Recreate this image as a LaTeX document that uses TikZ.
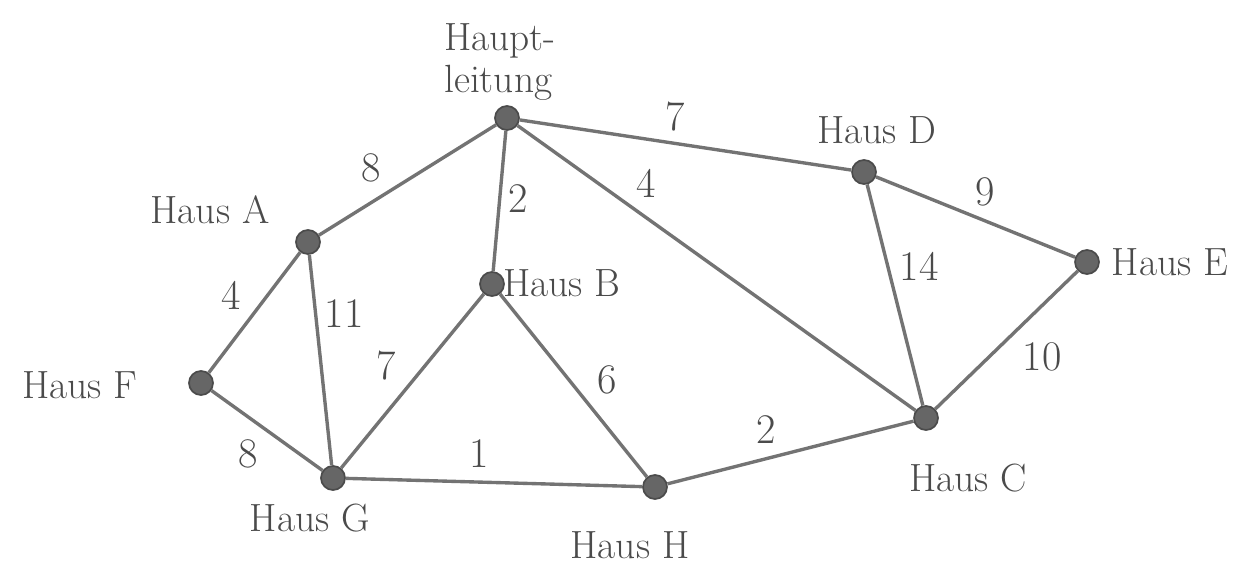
\documentclass[tikz,border=0pt]{standalone}
\usepackage{tikz}
\definecolor{pencil}{RGB}{75,75,75}
\definecolor{wire}{RGB}{115,115,115}
\tikzset{
  haus/.style={circle, draw=pencil, fill=pencil!85, line width=1.2pt, inner sep=0pt, minimum size=0.6cm},
  hausname/.style={text=pencil, font=\fontsize{28}{30}\selectfont},
  weight/.style={text=pencil, font=\fontsize{30}{32}\selectfont}
}
\begin{document}
\begin{tikzpicture}[x=0.025cm, y=-0.025cm, line width=2.4pt, draw=wire]
    \useasboundingbox (0,0) rectangle (1234,570);
    % Nodes
    \node (HL) [haus] at (507,118) {};
    \node (D) [haus] at (864,172) {};
    \node (E) [haus] at (1087,262) {};
    \node (A) [haus] at (308,242) {};
    \node (B) [haus] at (492,284) {};
    \node (F) [haus] at (201,383) {};
    \node (G) [haus] at (333,478) {};
    \node (H) [haus] at (655,487) {};
    \node (C) [haus] at (926,418) {};

    % Names
    \node (tHL) [hausname, align=left] at (500,62) {Haupt-\\leitung};
    \node (tD) [hausname] at (877,130) {Haus D};
    \node (tE) [hausname] at (1170,262) {Haus E};
    \node (tA) [hausname] at (210,210) {Haus A};
    \node (tB) [hausname] at (562,283) {Haus B};
    \node (tF) [hausname] at (80,385) {Haus F};
    \node (tG) [hausname] at (310,518) {Haus G};
    \node (tH) [hausname] at (630,545) {Haus H};
    \node (tC) [hausname] at (968,478) {Haus C};

    % Edges with weights
    \draw (HL) -- (A) node[weight, pos=0.6, above left=2pt] {8};
    \draw (HL) -- (D) node[weight, pos=0.47, above=4pt] {7};
    \draw (HL) -- (B) node[weight, pos=0.48, right=2pt] {2};
    \draw (HL) -- (C) node[weight, pos=0.28, above right=1pt] {4};
    \draw (D) -- (E) node[weight, pos=0.55, above=6pt] {9};
    \draw (D) -- (C) node[weight, pos=0.37, right=4pt] {14};
    \draw (E) -- (C) node[weight, pos=0.45, below right=2pt] {10};
    \draw (A) -- (F) node[weight, pos=0.55, above left=2pt] {4};
    \draw (A) -- (G) node[weight, pos=0.28, right=2pt] {11};
    \draw (B) -- (G) node[weight, pos=0.55, above left=2pt] {7};
    \draw (B) -- (H) node[weight, pos=0.6, above right=2pt] {6};
    \draw (F) -- (G) node[weight, pos=0.5, below left=2pt] {8};
    \draw (G) -- (H) node[weight, pos=0.45, above=6pt] {1};
    \draw (H) -- (C) node[weight, pos=0.4, above=6pt] {2};
\end{tikzpicture}
\end{document}
